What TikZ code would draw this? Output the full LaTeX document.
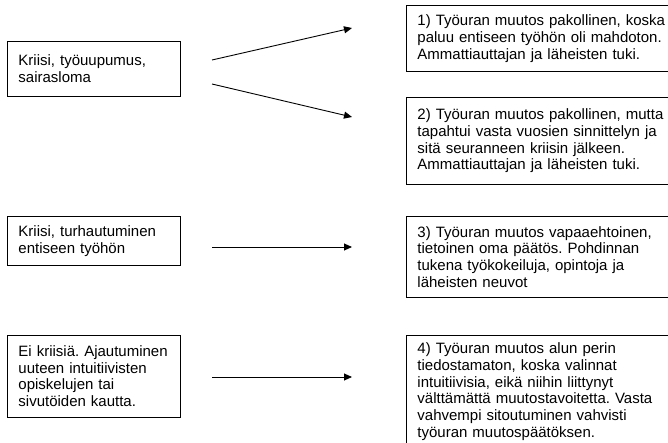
\documentclass[tikz,border=0pt]{standalone}
\usepackage{fontspec}
\setmainfont{Liberation Sans}
\usetikzlibrary{arrows.meta,positioning}
\frenchspacing
\hyphenpenalty=10000
\tikzset{
    box/.style={draw, line width=0.9pt, anchor=north west, align=left, inner xsep=11pt, inner ysep=4pt, font=\fontsize{15}{16.7}\selectfont},
    cause/.style={box, text width=151pt, minimum width=173pt},
    outcome/.style={box, text width=260pt, minimum width=282pt},
    flow/.style={-{Triangle[length=8pt, width=7pt]}, line width=0.9pt}
}
\begin{document}
\begin{tikzpicture}[x=1pt, y=1pt]
\useasboundingbox (0,0) rectangle (668,442);
\node[cause, minimum height=55pt] (k1) at (7,401) {Kriisi, työuupumus,\\sairasloma};
\node[cause, minimum height=49pt, below=119pt of k1.south west, anchor=north west] (k2) {Kriisi, turhautuminen\\entiseen työhön};
\node[cause, minimum height=82pt, below=69pt of k2.south west, anchor=north west] (k3) {Ei kriisiä. Ajautuminen\\uuteen intuitiivisten\\opiskelujen tai\\sivutöiden kautta.};

\node[outcome, minimum height=66pt] (t1) at (406,437) {1) Työuran muutos pakollinen, koska\\paluu entiseen työhön oli mahdoton.\\Ammattiauttajan ja läheisten tuki.};
\node[outcome, minimum height=87pt, below=25pt of t1.south west, anchor=north west] (t2) {2) Työuran muutos pakollinen, mutta\\tapahtui vasta vuosien sinnittelyn ja\\sitä seuranneen kriisin jälkeen.\\Ammattiauttajan ja läheisten tuki.};
\node[outcome, minimum height=81pt, below=31pt of t2.south west, anchor=north west] (t3) {3) Työuran muutos vapaaehtoinen,\\tietoinen oma päätös. Pohdinnan\\tukena työkokeiluja, opintoja ja\\läheisten neuvot};
\node[outcome, minimum height=113pt, below=37pt of t3.south west, anchor=north west] (t4) {4) Työuran muutos alun perin\\tiedostamaton, koska valinnat\\intuitiivisia, eikä niihin liittynyt\\välttämättä muutostavoitetta. Vasta\\vahvempi sitoutuminen vahvisti\\työuran muutospäätöksen.};

\coordinate (a1s) at (212,382);
\coordinate (a1e) at (352,414);
\coordinate (a2s) at (212,358);
\coordinate (a2e) at (352,325);
\coordinate (a3s) at (212,195);
\coordinate (a3e) at (352,195);
\coordinate (a4s) at (212,65);
\coordinate (a4e) at (352,65);

\draw[flow] (a1s) -- (a1e);
\draw[flow] (a2s) -- (a2e);
\draw[flow] (a3s) -- (a3e);
\draw[flow] (a4s) -- (a4e);
\end{tikzpicture}
\end{document}
